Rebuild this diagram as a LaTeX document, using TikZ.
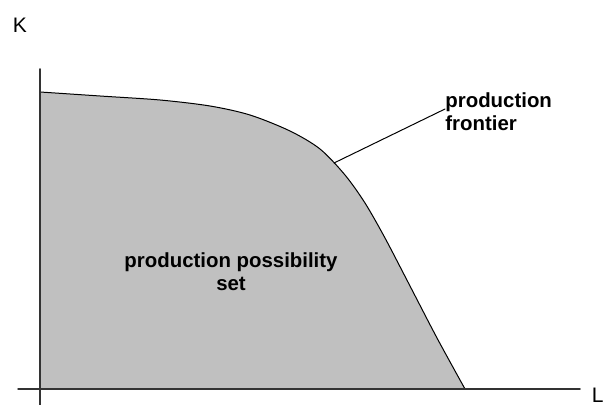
\documentclass[tikz,border=0pt]{standalone}
\usepackage{fontspec}
\setmainfont{Liberation Sans}
\definecolor{setgray}{RGB}{192,192,192}
\begin{document}
\begin{tikzpicture}[x=0.5pt, y=-0.5pt, line join=round, line cap=round, font=\fontsize{10.5}{12}\selectfont, axis/.style={draw=black!80, line width=0.75pt}, lbl/.style={inner sep=0pt, font=\bfseries\fontsize{10.2}{11.5}\selectfont}]
				\useasboundingbox (0,0) rectangle (608,405);
				\def\frontier{(40,92) (100,96) (160,100) (210,106) (250,115) (290,131) (320,149) (345,175) (365,203) (385,238) (410,286) (437,338) (465,389)}
				\coordinate (O) at (40,389);
				\coordinate (ytop) at (40,69);
				\coordinate (ybot) at (40,405);
				\coordinate (xleft) at (18,389);
				\coordinate (xright) at (580,389);
				\coordinate (fr) at (334,163);
				\fill[setgray] plot[smooth, tension=0.5] coordinates {\frontier} -- (O) -- cycle;
				\draw[line width=0.5pt] plot[smooth, tension=0.5] coordinates {\frontier};
				\draw[axis] (ybot) -- (ytop);
				\draw[axis] (xleft) -- (xright);
				\node (K) at (20,25) {K};
				\node[anchor=east, inner sep=0pt] (L) at (604,395) {L};
				\node[lbl, align=left, anchor=west] (frontlbl) at (445,112) {production\\frontier};
				\draw[line width=0.5pt] (fr) -- ([yshift=1.5pt]frontlbl.west);
				\node[lbl, align=center] (setlbl) at (231,272) {production possibility\\set};
			\end{tikzpicture}
\end{document}
